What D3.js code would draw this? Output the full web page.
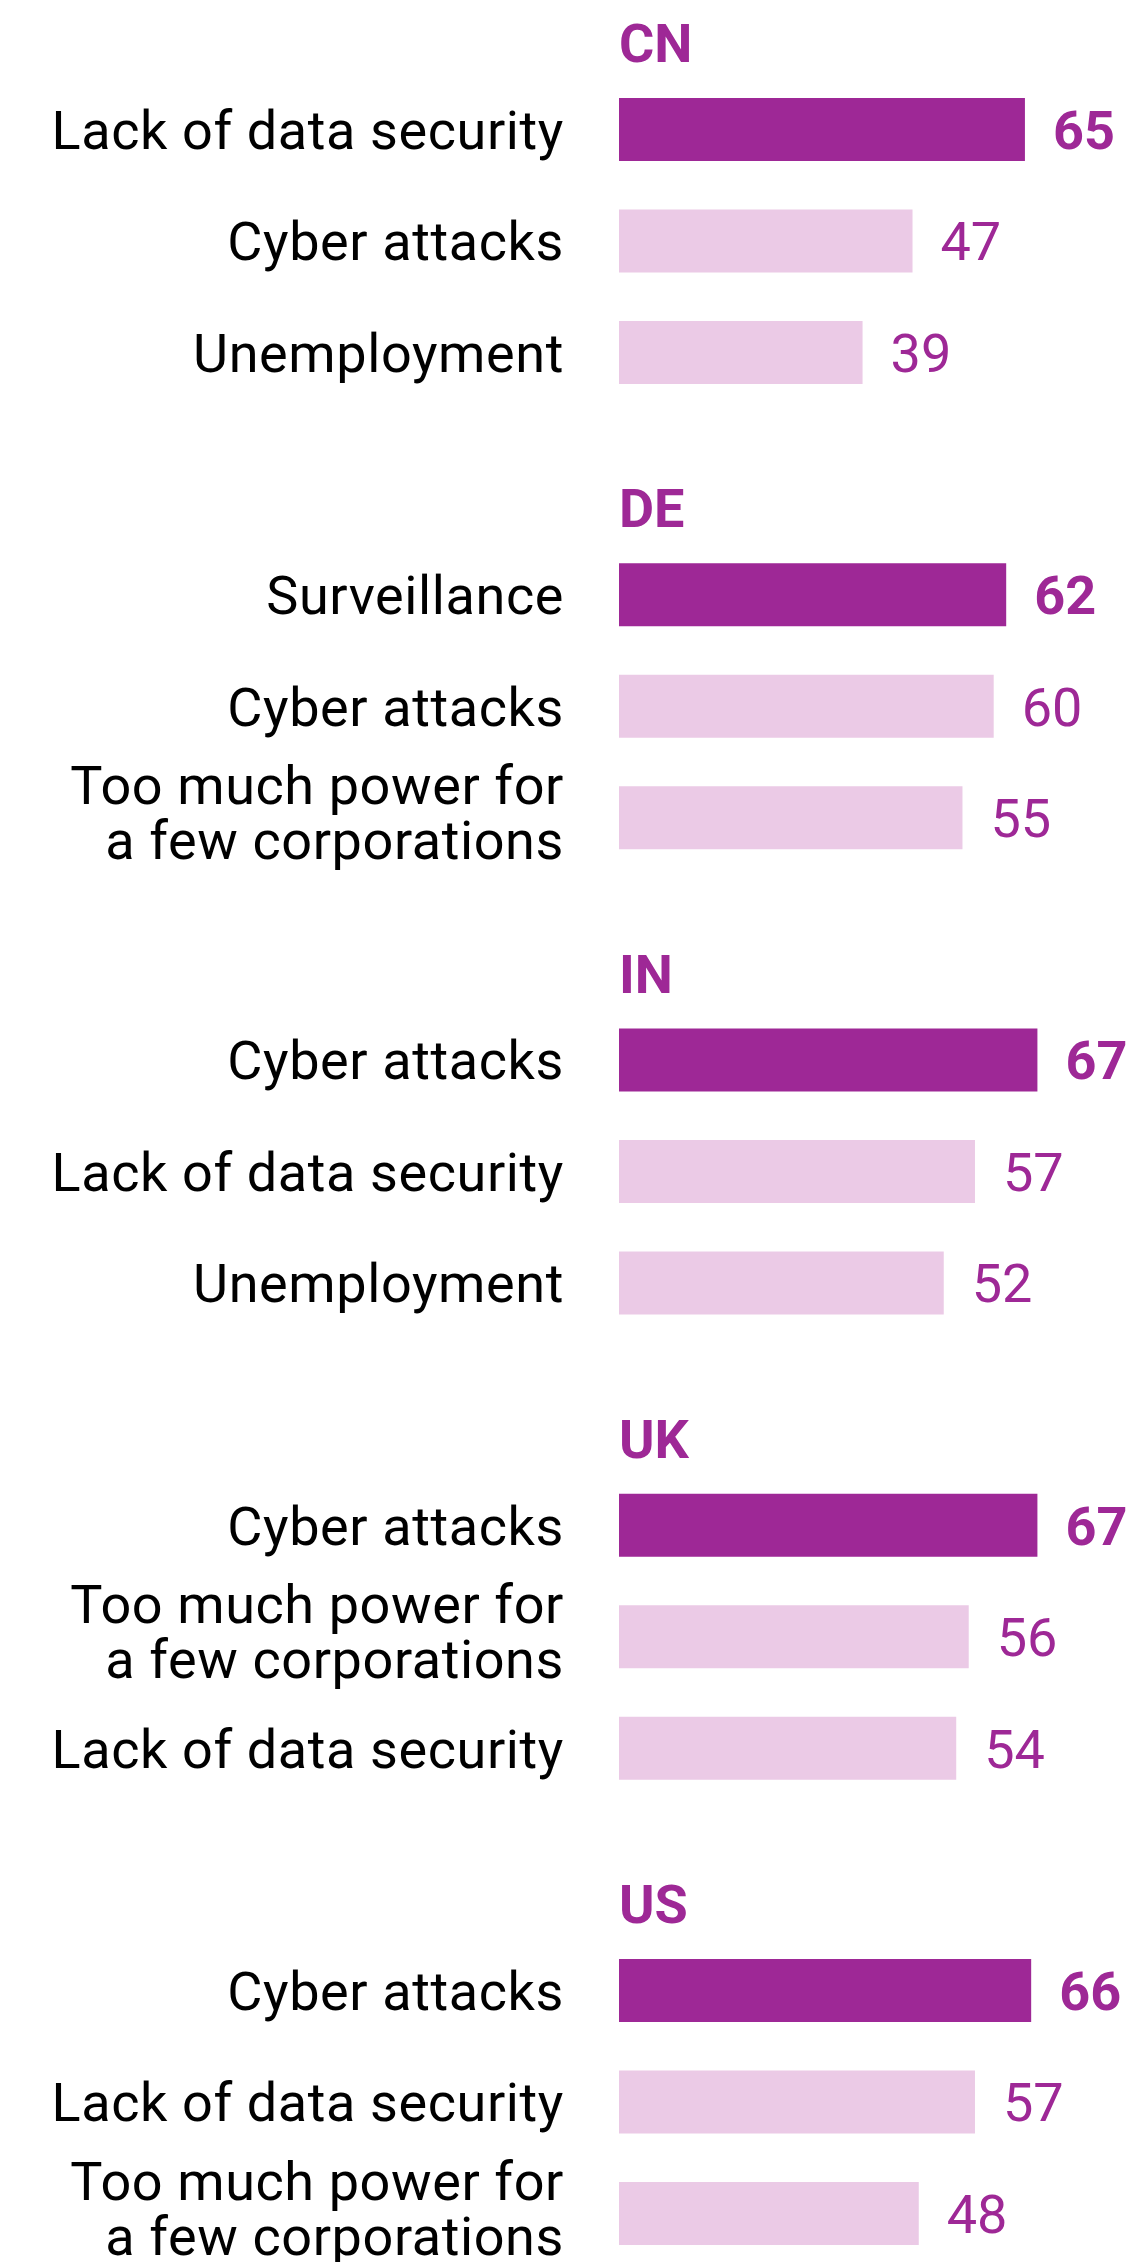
<!DOCTYPE html>
<html>
<head>
<meta charset="utf-8">
<script src="https://cdn.jsdelivr.net/npm/d3@7"></script>
<style>
  html, body { margin: 0; padding: 0; background: #ffffff; }
  svg { display: block; }
  text { font-family: Roboto, "Noto Sans", sans-serif; }
</style>
</head>
<body>
<svg id="chart" width="1131" height="2262"></svg>
<script>
// Countries, in display order
const countries = ["CN", "DE", "IN", "UK", "US"];

// Top three concerns per country (label lines) and share of respondents (%)
const concernsCN = [["Lack of data security"], ["Cyber attacks"], ["Unemployment"]];
const valuesCN = [65, 47, 39];

const concernsDE = [["Surveillance"], ["Cyber attacks"], ["Too much power for", "a few corporations"]];
const valuesDE = [62, 60, 55];

const concernsIN = [["Cyber attacks"], ["Lack of data security"], ["Unemployment"]];
const valuesIN = [67, 57, 52];

const concernsUK = [["Cyber attacks"], ["Too much power for", "a few corporations"], ["Lack of data security"]];
const valuesUK = [67, 56, 54];

const concernsUS = [["Cyber attacks"], ["Lack of data security"], ["Too much power for", "a few corporations"]];
const valuesUS = [66, 57, 48];

const concerns = [concernsCN, concernsDE, concernsIN, concernsUK, concernsUS];
const values = [valuesCN, valuesDE, valuesIN, valuesUK, valuesUS];

const groups = countries.map((c, i) => ({
  country: c,
  rows: values[i].map((v, j) => ({ rank: j, value: v, lines: concerns[i][j] }))
}));

const DARK = "#9e2896";
const LIGHT = "#ebcae6";
const INK = "#000000";
const FS = 54;

const svg = d3.select("#chart");

const x = d3.scaleLinear().domain([0, 100]).range([619, 619 + 624.5]);

const yGroup = d3.scaleBand()
  .domain(countries)
  .range([98, 98 + 465.25 * countries.length])
  .paddingInner(0).paddingOuter(0);

const yRow = d3.scaleBand()
  .domain([0, 1, 2])
  .range([0, 286])
  .paddingInner(0.435)
  .paddingOuter(0);

const g = svg.selectAll("g.country")
  .data(groups)
  .join("g")
  .attr("class", "country")
  .attr("transform", d => `translate(0,${yGroup(d.country)})`);

// Country heading above the first bar
g.append("text")
  .attr("x", x(0))
  .attr("y", -36)
  .attr("fill", DARK)
  .attr("font-weight", 700)
  .attr("font-size", FS)
  .text(d => d.country);

const row = g.selectAll("g.row")
  .data(d => d.rows)
  .join("g")
  .attr("class", "row")
  .attr("transform", d => `translate(0,${yRow(d.rank)})`);

row.append("rect")
  .attr("x", x(0))
  .attr("y", 0)
  .attr("width", d => x(d.value) - x(0))
  .attr("height", yRow.bandwidth())
  .attr("fill", d => d.rank === 0 ? DARK : LIGHT);

const mid = yRow.bandwidth() / 2;

// Concern label, right-aligned left of the bars
row.append("text")
  .attr("x", 564)
  .attr("text-anchor", "end")
  .attr("fill", INK)
  .attr("font-size", FS)
  .attr("letter-spacing", 0.6)
  .each(function (d) {
    const t = d3.select(this);
    const first = d.lines.length === 1 ? mid + 19.5 : mid - 13.5;
    d.lines.forEach((line, k) => {
      t.append("tspan")
        .attr("x", 564)
        .attr("y", first + k * 55)
        .text(line);
    });
  });

// Value label after the bar end
row.append("text")
  .attr("x", d => x(d.value) + 28)
  .attr("y", mid + 19.5)
  .attr("fill", DARK)
  .attr("font-size", FS)
  .attr("font-weight", d => d.rank === 0 ? 700 : 400)
  .text(d => d.value);
</script>
</body>
</html>
